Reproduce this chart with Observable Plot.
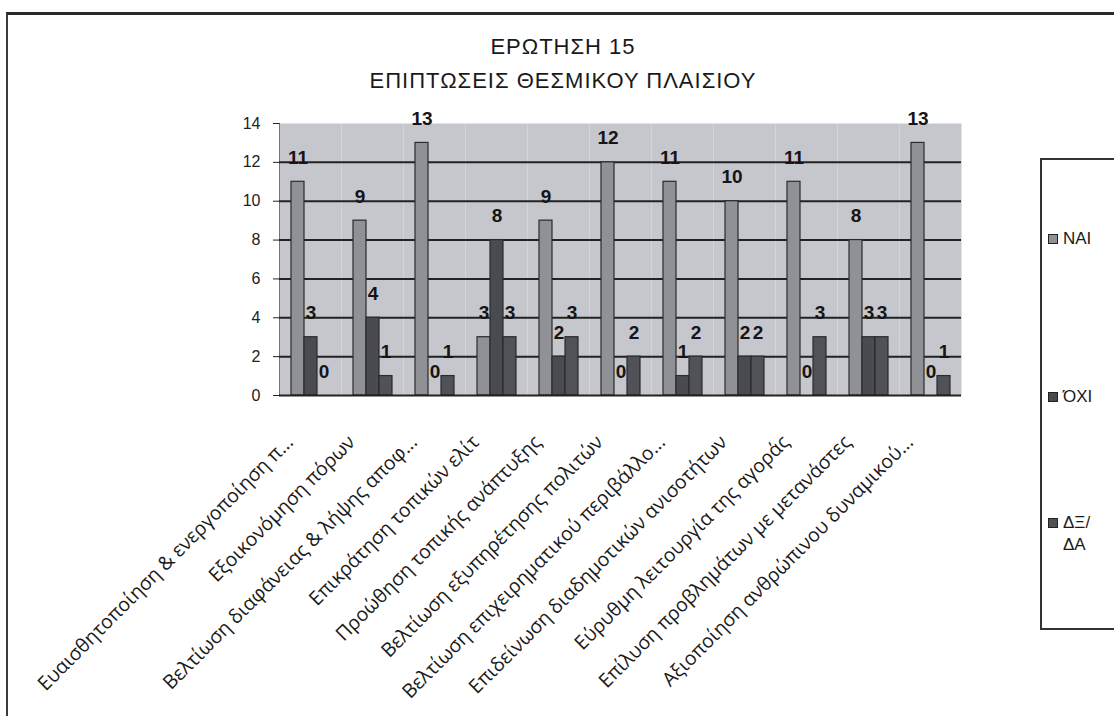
<!DOCTYPE html>
<html>
<head>
<meta charset="utf-8">
<script src="https://cdn.jsdelivr.net/npm/d3@7"></script>
<script src="https://cdn.jsdelivr.net/npm/@observablehq/plot@0.6"></script>
<style>
html, body { margin: 0; padding: 0; background: #fff; overflow: hidden; width: 1114px; height: 716px; }
#wrap { position: relative; width: 1114px; height: 716px; overflow: hidden; }
#chart { position: absolute; left: 0; top: 0; }
#frame { position: absolute; left: 6px; top: 12px; width: 1200px; height: 800px; border-top: 3px solid #2a2a2a; border-left: 2px solid #3a3a3a; pointer-events: none; }
#title { position: absolute; left: 0; width: 1126px; top: 30px; text-align: center; font-family: "Liberation Sans", Arial, sans-serif; font-size: 22px; letter-spacing: 1px; color: #1a1a1a; line-height: 34px; }
#legend { position: absolute; left: 1040px; top: 158px; width: 220px; height: 468px; border: 2px solid #333; background: #fff; font-family: "Liberation Sans", Arial, sans-serif; font-size: 17px; color: #1a1a1a; }
.item { position: absolute; left: 6px; display: flex; align-items: flex-start; line-height: 22px; }
.sw { width: 10px; height: 10px; margin-top: 6px; margin-right: 5px; border: 1px solid #222; box-sizing: border-box; }
</style>
</head>
<body>
<div id="wrap">
  <div id="chart"></div>
  <div id="title"><div>ΕΡΩΤΗΣΗ 15</div><div>ΕΠΙΠΤΩΣΕΙΣ ΘΕΣΜΙΚΟΥ ΠΛΑΙΣΙΟΥ</div></div>
  <div id="legend"></div>
  <div id="frame"></div>
</div>
<script>
const categories = [
  "Ευαισθητοποίηση & ενεργοποίηση π...",
  "Εξοικονόμηση πόρων",
  "Βελτίωση διαφάνειας & λήψης αποφ...",
  "Επικράτηση τοπικών ελίτ",
  "Προώθηση τοπικής ανάπτυξης",
  "Βελτίωση εξυπηρέτησης πολιτών",
  "Βελτίωση επιχειρηματικού περιβάλλο...",
  "Επιδείνωση διαδημοτικών ανισοτήτων",
  "Εύρυθμη λειτουργία της αγοράς",
  "Επίλυση προβλημάτων με μετανάστες",
  "Αξιοποίηση ανθρώπινου δυναμικού..."
];
const series = ["ΝΑΙ", "ΌΧΙ", "ΔΞ/ΔΑ"];
const legendLabels = ["ΝΑΙ", "ΌΧΙ", "ΔΞ/<br>ΔΑ"];
const valuesYes = [11, 9, 13, 3, 9, 12, 11, 10, 11, 8, 13];
const valuesNo = [3, 4, 0, 8, 2, 0, 1, 2, 0, 3, 0];
const valuesDk = [0, 1, 1, 3, 3, 2, 2, 2, 3, 3, 1];
const yTicks = [0, 2, 4, 6, 8, 10, 12, 14];
const gridValues = [2, 4, 6, 8, 10, 12];
const colors = ["#909196", "#4a4b50", "#515257"];

const seriesValues = [valuesYes, valuesNo, valuesDk];
const rows = categories.flatMap((c, i) => series.map((s, j) => ({category: c, series: s, value: seriesValues[j][i]})));

const chart = Plot.plot({
  width: 1114,
  height: 716,
  marginLeft: 275,
  marginRight: 149,
  marginTop: 123,
  marginBottom: 321,
  style: {fontFamily: "Liberation Sans, Arial, sans-serif", fontSize: "16px", color: "#222", background: "transparent", overflow: "visible"},
  fx: {domain: categories, padding: 0, axis: null},
  x: {domain: series, paddingInner: 0, paddingOuter: 0.75, axis: null},
  y: {domain: [0, 14], ticks: yTicks, label: null, tickSize: 6, tickPadding: 13, line: true},
  color: {domain: series, range: colors},
  marks: [
    Plot.frame({fill: "#c6c7cc", stroke: null}),
    Plot.ruleY(gridValues, {stroke: "#222", strokeWidth: 2}),
    Plot.barY(rows, {fx: "category", x: "series", y: "value", fill: "series", stroke: "#2b2b2b", strokeWidth: 1.2}),
    Plot.ruleY([0], {stroke: "#222", strokeWidth: 2}),
    Plot.text(rows, {fx: "category", x: "series", y: "value", text: d => String(d.value), dy: -24, fontWeight: "bold", fontSize: 19, fill: "#151515"}),
    Plot.text(categories, {fx: d => d, text: d => d, frameAnchor: "bottom", rotate: -45, textAnchor: "end", lineAnchor: "top", dx: -26, dy: 38, fontSize: 19.5, fontFamily: "Open Sans, sans-serif", fill: "#1a1a1a"})
  ]
});
document.getElementById("chart").appendChild(chart);

const legend = document.getElementById("legend");
const itemTops = [68, 226, 352];
series.forEach((s, i) => {
  const it = document.createElement("div");
  it.className = "item";
  it.style.top = itemTops[i] + "px";
  it.innerHTML = `<div class="sw" style="background:${colors[i]}"></div><div>${legendLabels[i]}</div>`;
  legend.appendChild(it);
});
</script>
</body>
</html>
